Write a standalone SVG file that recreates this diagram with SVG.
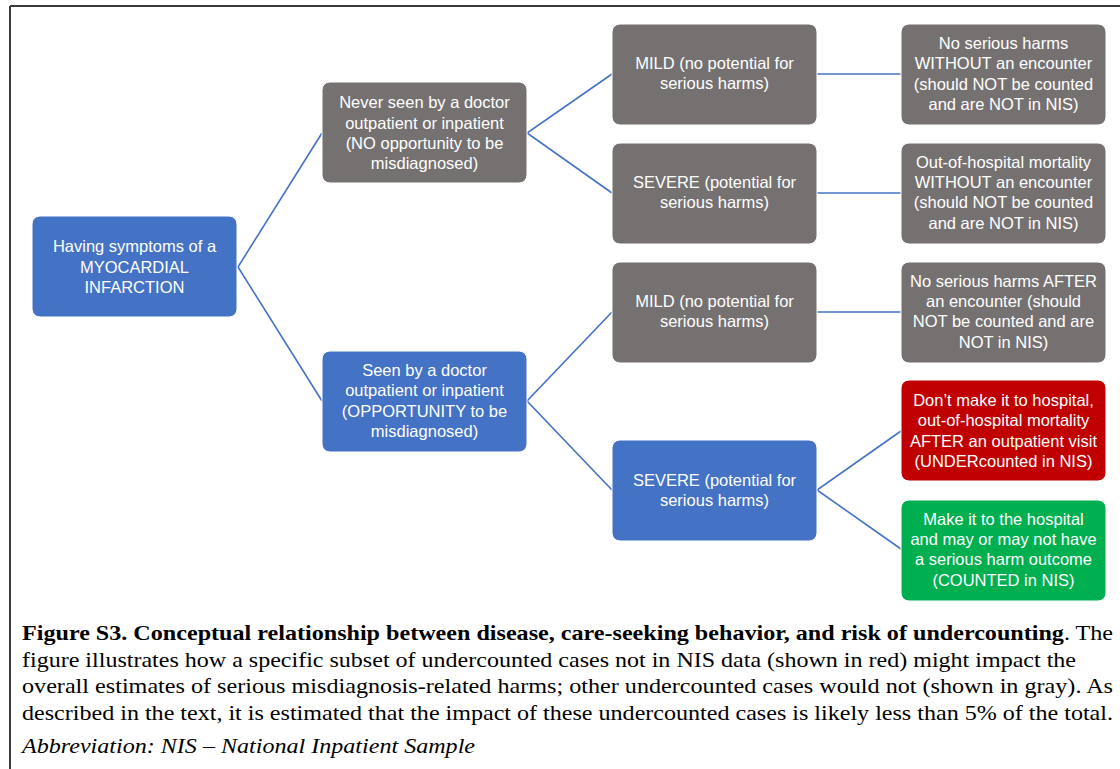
<svg xmlns="http://www.w3.org/2000/svg" width="1120" height="769" viewBox="0 0 1120 769">
<style>
.box{stroke:#ffffff;stroke-width:1}
.gray{fill:#767171}
.blue{fill:#4472C4}
.red{fill:#C00000}
.green{fill:#00B050}
.t{font-family:"Liberation Sans",Arial,sans-serif;font-size:16.5px;fill:#ffffff;text-anchor:middle}
.conn{stroke:#4472C4;stroke-width:1.6;fill:none}
.cap{font-family:"Liberation Serif","Times New Roman",serif;font-size:21.5px;fill:#000}
</style>
<rect width="1120" height="769" fill="#ffffff"/>
<g id="frame" stroke="#3a3a3a" stroke-width="2" fill="none">
<line x1="10" y1="6" x2="1120" y2="6"/>
<line x1="10" y1="6" x2="10" y2="769"/>
</g>
<g id="connectors">
<polyline class="conn" points="322,133 238,267 322,401"/>
<polyline class="conn" points="612,74 527,133 612,193"/>
<polyline class="conn" points="612,312 527,401 612,490"/>
<line class="conn" x1="817" y1="74" x2="901" y2="74"/>
<line class="conn" x1="817" y1="193" x2="901" y2="193"/>
<line class="conn" x1="817" y1="312" x2="901" y2="312"/>
<polyline class="conn" points="901,431 817,490 901,549"/>
</g>
<g id="root">
<rect class="box blue" x="32" y="216" width="205" height="101" rx="8"/>
<text class="t" x="134.5"><tspan x="134.5" y="252">Having symptoms of a</tspan><tspan x="134.5" y="273">MYOCARDIAL</tspan><tspan x="134.5" y="293">INFARCTION</tspan></text>
</g>
<g id="never-seen">
<rect class="box gray" x="322" y="82" width="205" height="101" rx="8"/>
<text class="t"><tspan x="424.5" y="108">Never seen by a doctor</tspan><tspan x="424.5" y="129">outpatient or inpatient</tspan><tspan x="424.5" y="149">(NO opportunity to be</tspan><tspan x="424.5" y="169">misdiagnosed)</tspan></text>
</g>
<g id="seen">
<rect class="box blue" x="322" y="351" width="205" height="101" rx="8"/>
<text class="t"><tspan x="424.5" y="376">Seen by a doctor</tspan><tspan x="424.5" y="396">outpatient or inpatient</tspan><tspan x="424.5" y="417">(OPPORTUNITY to be</tspan><tspan x="424.5" y="437">misdiagnosed)</tspan></text>
</g>
<g id="mild-1">
<rect class="box gray" x="612" y="24" width="205" height="101" rx="8"/>
<text class="t"><tspan x="714.5" y="69">MILD (no potential for</tspan><tspan x="714.5" y="89">serious harms)</tspan></text>
</g>
<g id="severe-1">
<rect class="box gray" x="612" y="143" width="205" height="101" rx="8"/>
<text class="t"><tspan x="714.5" y="188">SEVERE (potential for</tspan><tspan x="714.5" y="208">serious harms)</tspan></text>
</g>
<g id="mild-2">
<rect class="box gray" x="612" y="262" width="205" height="101" rx="8"/>
<text class="t"><tspan x="714.5" y="307">MILD (no potential for</tspan><tspan x="714.5" y="327">serious harms)</tspan></text>
</g>
<g id="severe-2">
<rect class="box blue" x="612" y="440" width="205" height="101" rx="8"/>
<text class="t"><tspan x="714.5" y="486">SEVERE (potential for</tspan><tspan x="714.5" y="506">serious harms)</tspan></text>
</g>
<g id="no-harm-without">
<rect class="box gray" x="901" y="24" width="205" height="101" rx="8"/>
<text class="t"><tspan x="1003.5" y="49">No serious harms</tspan><tspan x="1003.5" y="69">WITHOUT an encounter</tspan><tspan x="1003.5" y="90">(should NOT be counted</tspan><tspan x="1003.5" y="110">and are NOT in NIS)</tspan></text>
</g>
<g id="mortality-without">
<rect class="box gray" x="901" y="143" width="205" height="101" rx="8"/>
<text class="t"><tspan x="1003.5" y="168">Out-of-hospital mortality</tspan><tspan x="1003.5" y="188">WITHOUT an encounter</tspan><tspan x="1003.5" y="208">(should NOT be counted</tspan><tspan x="1003.5" y="229">and are NOT in NIS)</tspan></text>
</g>
<g id="no-harm-after">
<rect class="box gray" x="901" y="262" width="205" height="101" rx="8"/>
<text class="t"><tspan x="1003.5" y="287">No serious harms AFTER</tspan><tspan x="1003.5" y="307">an encounter (should</tspan><tspan x="1003.5" y="327">NOT be counted and are</tspan><tspan x="1003.5" y="348">NOT in NIS)</tspan></text>
</g>
<g id="undercounted">
<rect class="box red" x="901" y="380" width="205" height="101" rx="8"/>
<text class="t"><tspan x="1003.5" y="406">Don’t make it to hospital,</tspan><tspan x="1003.5" y="426">out-of-hospital mortality</tspan><tspan x="1003.5" y="447">AFTER an outpatient visit</tspan><tspan x="1003.5" y="467">(UNDERcounted in NIS)</tspan></text>
</g>
<g id="counted">
<rect class="box green" x="901" y="500" width="205" height="101" rx="8"/>
<text class="t"><tspan x="1003.5" y="525">Make it to the hospital</tspan><tspan x="1003.5" y="545">and may or may not have</tspan><tspan x="1003.5" y="565">a serious harm outcome</tspan><tspan x="1003.5" y="586">(COUNTED in NIS)</tspan></text>
</g>
<g id="caption">
<text class="cap" x="22" y="640" textLength="1091" lengthAdjust="spacingAndGlyphs"><tspan font-weight="bold">Figure S3. Conceptual relationship between disease, care-seeking behavior, and risk of undercounting</tspan>. The</text>
<text class="cap" x="22" y="667" textLength="1054" lengthAdjust="spacingAndGlyphs">figure illustrates how a specific subset of undercounted cases not in NIS data (shown in red) might impact the</text>
<text class="cap" x="22" y="693" textLength="1091" lengthAdjust="spacingAndGlyphs">overall estimates of serious misdiagnosis-related harms; other undercounted cases would not (shown in gray). As</text>
<text class="cap" x="22" y="720" textLength="1091" lengthAdjust="spacingAndGlyphs">described in the text, it is estimated that the impact of these undercounted cases is likely less than 5% of the total.</text>
<text class="cap" x="22" y="753" font-style="italic" textLength="453" lengthAdjust="spacingAndGlyphs">Abbreviation: NIS – National Inpatient Sample</text>
</g>
</svg>
